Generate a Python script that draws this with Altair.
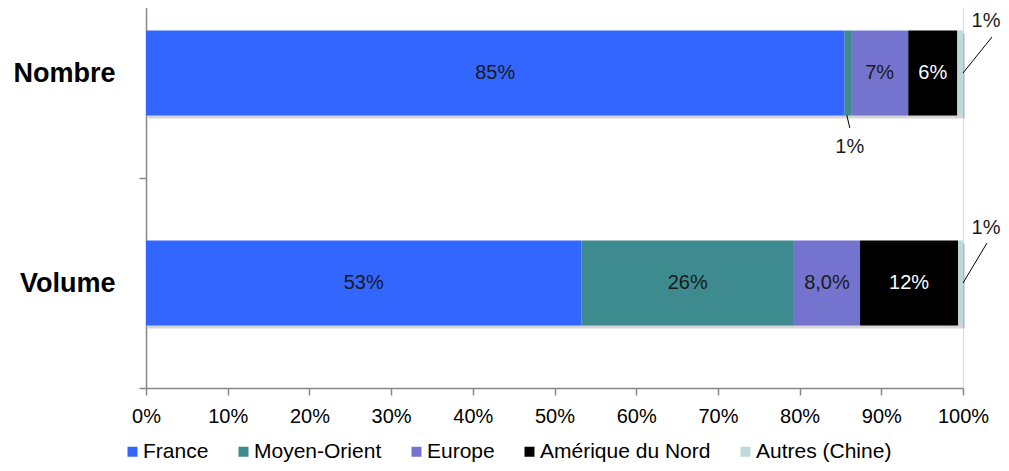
import altair as alt
import pandas as pd

# ---- data ----
categories = ["Nombre", "Volume"]
regions = ["France", "Moyen-Orient", "Europe", "Amérique du Nord", "Autres (Chine)"]
nombre_values = [85.5, 0.8, 7.0, 6.0, 0.7]
volume_values = [53.3, 26.0, 8.1, 12.0, 0.6]
nombre_labels = ["85%", "1%", "7%", "6%", "1%"]
volume_labels = ["53%", "26%", "8,0%", "12%", "1%"]
region_colors = ["#3366FF", "#3D8B8F", "#7474CF", "#000000", "#BFD8DA"]
x_ticks = [0, 10, 20, 30, 40, 50, 60, 70, 80, 90, 100]

FONT = "Liberation Sans"

rows = []
for ci, (cat, vals, labs) in enumerate(
    zip(categories, [nombre_values, volume_values], [nombre_labels, volume_labels])
):
    for ri, (reg, v, lab) in enumerate(zip(regions, vals, labs)):
        rows.append({
            "cat": cat,
            "pos": len(categories) - ci - 0.5,
            "region": reg,
            "order": ri,
            "value": v,
            "label": lab,
        })
df = pd.DataFrame(rows)

cat_pos = {r["cat"]: r["pos"] for r in rows}
label_expr = " : ".join(
    [f"datum.value == {p} ? '{c}'" for c, p in cat_pos.items()]
) + " : ''"

PLOT_H = 388
xscale = alt.Scale(domain=[0, 100], nice=False, zero=True, padding=0)
yscale = alt.Scale(domain=[0, PLOT_H / 210], nice=False, zero=True, padding=0)

xaxis = alt.Axis(
    values=x_ticks, labelExpr="datum.value + '%'", title=None, grid=False,
    domainColor="#888888", domainWidth=1.5, tickColor="#888888", tickWidth=1.5,
    tickSize=7, labelFontSize=20, labelFont=FONT, labelColor="#000000",
    labelPadding=11, labelFlush=False, labelOverlap=False,
)
yaxis = alt.Axis(
    values=[0, 0.5, 1, 1.5], labelExpr=label_expr, title=None, grid=False,
    domainColor="#888888", domainWidth=1.5, tickColor="#888888", tickWidth=1.5,
    tickSize=7,
    tickOpacity={"condition": {"test": "datum.value % 1 != 0", "value": 0}, "value": 1},
    labelFontSize=27, labelFontWeight="bold", labelFont=FONT, labelColor="#000000",
    labelPadding=24, labelOverlap=False,
)


def X(field):
    return alt.X(f"{field}:Q", scale=xscale, axis=xaxis, title=None)


def Y():
    return alt.Y("pos:Q", scale=yscale, axis=yaxis, title=None)


base = alt.Chart(df).transform_stack(
    stack="value", groupby=["cat"], as_=["x0", "x1"],
    sort=[alt.SortField("order", order="ascending")],
).transform_calculate(mid="(datum.x0 + datum.x1) / 2")

shadow = base.mark_bar(
    orient="horizontal", size=85, color="#000000", opacity=0.16,
    yOffset=3, xOffset=2, x2Offset=2,
).encode(x=X("x0"), x2="x1:Q", y=Y())

bars = base.mark_bar(orient="horizontal", size=85).encode(
    x=X("x0"), x2="x1:Q", y=Y(),
    color=alt.Color(
        "region:N",
        scale=alt.Scale(domain=regions, range=region_colors),
        sort=regions,
        legend=alt.Legend(
            orient="none", direction="horizontal", columns=5,
            legendX=-24, legendY=441, title=None,
            symbolType="square", symbolSize=100, symbolStrokeWidth=0,
            labelFontSize=21, labelFont=FONT, labelColor="#000000",
            labelLimit=400, columnPadding=24, labelOffset=0, padding=0,
        ),
    ),
)

dark_regions = [regions[3]]
inbar = base.transform_filter("datum.value >= 2").mark_text(
    fontSize=20, font=FONT, baseline="middle", align="center"
).encode(
    x=X("mid"), y=Y(), text="label:N",
    color=alt.condition(
        alt.FieldOneOfPredicate(field="region", oneOf=dark_regions),
        alt.value("#FFFFFF"), alt.value("#1A1A1A"),
    ),
)

# small-value callouts: (category, region, anchor field, line offsets, text offsets)
callouts = [
    (categories[0], regions[1], "mid", (-1, 42, 2, 55), (2, 74)),
    (categories[0], regions[4], "x1", (0, 0, 29, -36), (23, -52)),
    (categories[1], regions[4], "x1", (0, 0, 24, -40), (23, -55)),
]
layers = [shadow, bars, inbar]
for cat, reg, field, (lx, ly, lx2, ly2), (tdx, tdy) in callouts:
    sel = base.transform_filter(
        (alt.datum.cat == cat) & (alt.datum.region == reg)
    )
    layers.append(
        sel.mark_rule(
            color="#000000", strokeWidth=1,
            xOffset=lx, yOffset=ly, x2Offset=lx2, y2Offset=ly2,
        ).encode(x=X(field), x2=f"{field}:Q", y=Y(), y2="pos:Q")
    )
    layers.append(
        sel.mark_text(
            fontSize=20, font=FONT, color="#1A1A1A", dx=tdx, dy=tdy,
            baseline="middle", align="center",
        ).encode(x=X(field), y=Y(), text="label:N")
    )

chart = alt.layer(*layers).properties(
    width=817, height=PLOT_H,
    autosize=alt.AutoSizeParams(type="none"),
    padding={"left": 138, "top": -8, "right": 38, "bottom": 75},
).configure_view(stroke=None).configure(font=FONT)

chart.save("out.html", embed_options={"renderer": "svg", "actions": False})
